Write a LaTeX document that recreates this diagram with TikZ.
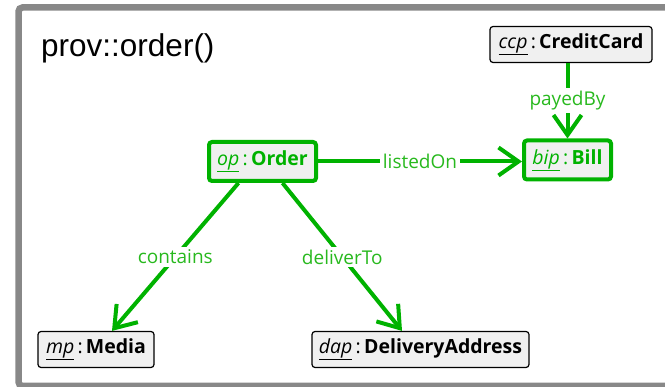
\documentclass[tikz,border=0pt]{standalone}
\usepackage{fontspec}
\setmainfont{Liberation Sans}
\newfontfamily\uifont{Open Sans}
\usetikzlibrary{arrows.meta}
\definecolor{egreen}{RGB}{0,178,0}
\definecolor{lgreen}{RGB}{40,185,30}
\definecolor{framegray}{RGB}{136,136,136}
\definecolor{boxfill}{RGB}{240,240,240}
\tikzset{
  objbox/.style={draw=black, line width=1.2pt, rounded corners=3pt, fill=boxfill,
    inner sep=0pt, minimum height=36pt, font=\uifont\fontsize{19.5}{22}\selectfont},
  newbox/.style={objbox, draw=egreen, line width=4pt, text=egreen, minimum height=39pt},
  conn/.style={draw=egreen, line width=4pt,
    -{Straight Barb[length=20pt,width=28pt,line width=4pt]}},
  lbl/.style={fill=white, text=lgreen, font=\uifont\fontsize{19}{22}\selectfont, inner sep=3pt},
  titletext/.style={font=\fontsize{31.5}{36}\selectfont, inner sep=0pt}
}
\begin{document}
\begin{tikzpicture}[x=1pt, y=-1pt]
  \useasboundingbox (0,0) rectangle (665,387);
  \clip (0,0) rectangle (665,387);
  \draw[framegray, line width=6.5pt, rounded corners=4pt] (18.5,7.5) rectangle (720,386);
  \node[titletext, anchor=base west] (title) at (41,57) {prov::order()};

  \node[objbox, minimum width=162pt] (ccp) at (571,44.5)
    {\underline{\itshape ccp}\,:\,\textbf{CreditCard}};
  \node[newbox, minimum width=87pt] (bip) at (567.5,160)
    {\underline{\itshape bip}\,:\,\textbf{Bill}};
  \node[newbox, minimum width=107pt] (op) at (262.5,161.5)
    {\underline{\itshape op}\,:\,\textbf{Order}};
  \node[objbox, minimum width=116pt] (mp) at (96,349.5)
    {\underline{\itshape mp}\,:\,\textbf{Media}};
  \node[objbox, minimum width=217pt] (dap) at (420.5,349.5)
    {\underline{\itshape dap}\,:\,\textbf{DeliveryAddress}};

  \draw[conn] (op.east) -- node[lbl] {listedOn} (op.east -| bip.west);
  \draw[conn] (ccp.south -| bip.north) -- node[lbl] {payedBy} (bip.north);
  \draw[conn] ([xshift=-24pt]op.south) -- node[lbl] {contains} ([xshift=16pt]mp.north);
  \draw[conn] ([xshift=20pt]op.south) -- node[lbl] {deliverTo} ([xshift=-18.5pt]dap.north);
\end{tikzpicture}
\end{document}
